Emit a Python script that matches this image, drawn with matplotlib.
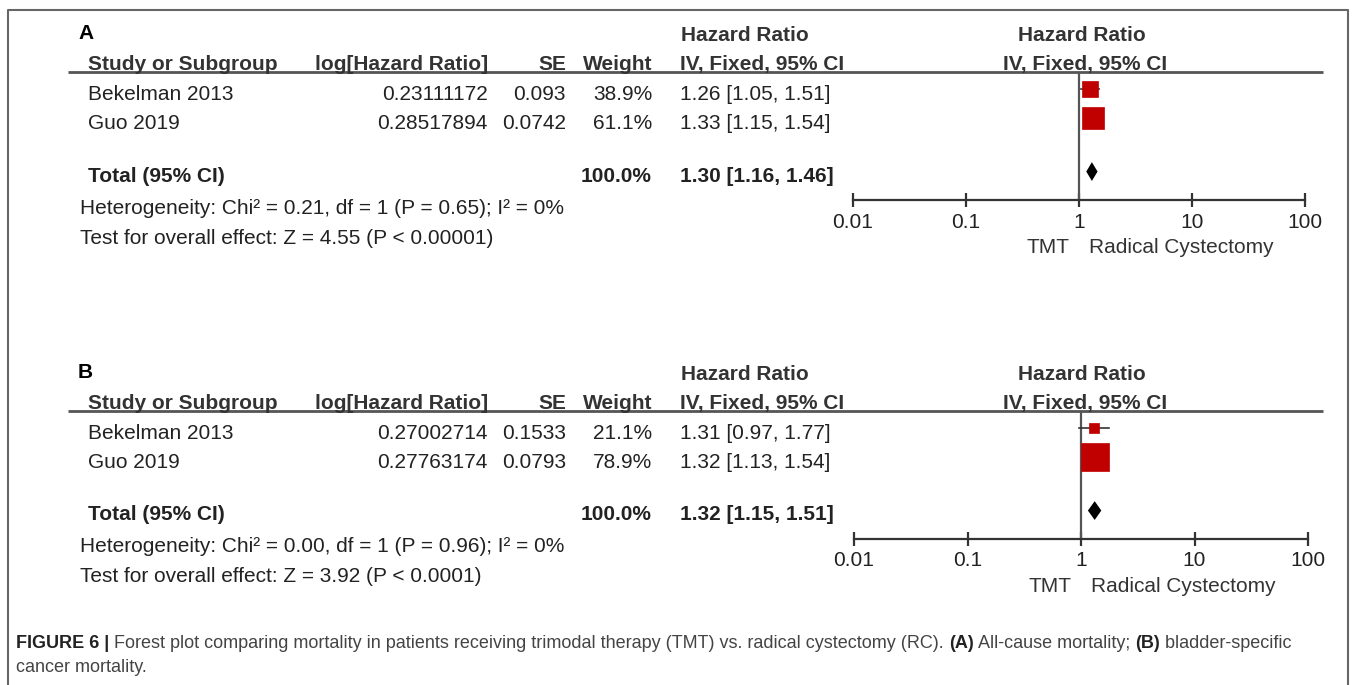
import numpy as np
import matplotlib
matplotlib.use("Agg")
import matplotlib.pyplot as plt
from matplotlib.ticker import FixedLocator, FixedFormatter, NullLocator

plt.rcParams['font.family'] = ['Liberation Sans', 'DejaVu Sans']

# data
studies = ["Bekelman 2013", "Guo 2019"]

loghr_a = ["0.23111172", "0.28517894"]
se_a = ["0.093", "0.0742"]
weight_a = [38.9, 61.1]
hr_a = [1.26, 1.33]
lo_a = [1.05, 1.15]
hi_a = [1.51, 1.54]
total_a = [1.30, 1.16, 1.46]
het_a = "Heterogeneity: Chi² = 0.21, df = 1 (P = 0.65); I² = 0%"
test_a = "Test for overall effect: Z = 4.55 (P < 0.00001)"

loghr_b = ["0.27002714", "0.27763174"]
se_b = ["0.1533", "0.0793"]
weight_b = [21.1, 78.9]
hr_b = [1.31, 1.32]
lo_b = [0.97, 1.13]
hi_b = [1.77, 1.54]
total_b = [1.32, 1.15, 1.51]
het_b = "Heterogeneity: Chi² = 0.00, df = 1 (P = 0.96); I² = 0%"
test_b = "Test for overall effect: Z = 3.92 (P < 0.0001)"

ticks = [0.01, 0.1, 1, 10, 100]
tick_labels = ["0.01", "0.1", "1", "10", "100"]

W, H = 1357, 685
fig = plt.figure(figsize=(W / 100, H / 100), dpi=100)
ax0 = fig.add_axes([0, 0, 1, 1])
ax0.set_xlim(0, W)
ax0.set_ylim(H, 0)
ax0.axis('off')

TXT = '#222222'
LINE = '#555555'
FS = 15


def px_axes(x0, x1, y0, y1):
    # axes placed by pixel box (y from top)
    return fig.add_axes([x0 / W, 1 - y1 / H, (x1 - x0) / W, (y1 - y0) / H])


def panel(label, off, x0, x1, loghr, se, weight, hr, lo, hi, total, het, test):
    ax0.text(78, 33 + off, label, fontsize=FS, fontweight='bold', color='black', va='center')
    ax0.text(745, 35 + off, "Hazard Ratio", fontsize=FS, fontweight='bold', color='#333', ha='center', va='center')
    ax0.text(1082, 35 + off, "Hazard Ratio", fontsize=FS, fontweight='bold', color='#333', ha='center', va='center')
    hy = 64 + off
    ax0.text(88, hy, "Study or Subgroup", fontsize=FS, fontweight='bold', color='#333', va='center')
    ax0.text(488, hy, "log[Hazard Ratio]", fontsize=FS, fontweight='bold', color='#333', ha='right', va='center')
    ax0.text(566, hy, "SE", fontsize=FS, fontweight='bold', color='#333', ha='right', va='center')
    ax0.text(652, hy, "Weight", fontsize=FS, fontweight='bold', color='#333', ha='right', va='center')
    ax0.text(680, hy, "IV, Fixed, 95% CI", fontsize=FS, fontweight='bold', color='#333', va='center')
    ax0.text(1085, hy, "IV, Fixed, 95% CI", fontsize=FS, fontweight='bold', color='#333', ha='center', va='center')
    ax0.plot([68, 1323], [72 + off, 72 + off], color=LINE, lw=2, solid_capstyle='butt')

    for i, name in enumerate(studies):
        y = 94 + 29 * i + off
        ax0.text(88, y, name, fontsize=FS, color=TXT, va='center')
        ax0.text(488, y, loghr[i], fontsize=FS, color=TXT, ha='right', va='center')
        ax0.text(566, y, se[i], fontsize=FS, color=TXT, ha='right', va='center')
        ax0.text(652, y, f"{weight[i]:.1f}%", fontsize=FS, color=TXT, ha='right', va='center')
        ax0.text(680, y, f"{hr[i]:.2f} [{lo[i]:.2f}, {hi[i]:.2f}]", fontsize=FS, color=TXT, va='center')
    ty = 176 + off
    ax0.text(88, ty, "Total (95% CI)", fontsize=FS, fontweight='bold', color=TXT, va='center')
    ax0.text(652, ty, f"{sum(weight):.1f}%", fontsize=FS, fontweight='bold', color=TXT, ha='right', va='center')
    ax0.text(680, ty, f"{total[0]:.2f} [{total[1]:.2f}, {total[2]:.2f}]", fontsize=FS,
             fontweight='bold', color=TXT, va='center')
    ax0.text(80, 208 + off, het, fontsize=FS, color=TXT, va='center')
    ax0.text(80, 238 + off, test, fontsize=FS, color=TXT, va='center')

    # forest part
    ax = px_axes(x0, x1, 72 + off, 200 + off)
    ax.set_xscale('log')
    ax.set_xlim(0.01, 100)
    ax.set_ylim(3.9, -0.6)
    for s in ['top', 'left', 'right']:
        ax.spines[s].set_visible(False)
    ax.spines['bottom'].set_color('#333')
    ax.spines['bottom'].set_linewidth(1.6)
    ax.xaxis.set_major_locator(FixedLocator(ticks))
    ax.xaxis.set_major_formatter(FixedFormatter(tick_labels))
    ax.xaxis.set_minor_locator(NullLocator())
    ax.yaxis.set_visible(False)
    ax.tick_params(axis='x', direction='inout', length=10, width=1.6, color='#333',
                   labelsize=FS, labelcolor=TXT, pad=4)
    ax.axvline(1, color=LINE, lw=1.6)
    for i in range(len(studies)):
        ax.plot([lo[i], hi[i]], [i, i], color='#333', lw=1.2)
        side = (0.34 * weight[i] + 2) * 0.72
        ax.plot(hr[i], i, marker='s', ms=side, color='#c00000', mec='#c00000', mew=0.5)
    yt, h = 2.9, 0.33
    ax.fill([total[1], total[0], total[2], total[0]], [yt, yt - h, yt, yt + h], color='black', lw=0)
    ax.patch.set_alpha(0)
    ax.annotate("TMT", xy=(1, 0), xycoords=('data', 'axes fraction'), xytext=(-7, -34),
                textcoords='offset points', ha='right', va='center', fontsize=FS, color='#333')
    ax.annotate("Radical Cystectomy", xy=(1, 0), xycoords=('data', 'axes fraction'), xytext=(7, -34),
                textcoords='offset points', ha='left', va='center', fontsize=FS, color='#333')


panel("A", 0, 853, 1305, loghr_a, se_a, weight_a, hr_a, lo_a, hi_a, total_a, het_a, test_a)
panel("B", 339, 854, 1308, loghr_b, se_b, weight_b, hr_b, lo_b, hi_b, total_b, het_b, test_b)

# frame
ax0.plot([8, 8, 1348, 1348], [H + 5, 10, 10, H + 5], color='#666', lw=1.5)

# caption with mixed weights
renderer = fig.canvas.get_renderer()


def rich_line(x, y, pieces, size=13):
    for s, bold in pieces:
        t = ax0.text(x, y, s, fontsize=size, fontweight='bold' if bold else 'normal',
                     color='#222' if bold else '#444', va='center')
        bb = t.get_window_extent(renderer)
        x = ax0.transData.inverted().transform((bb.x1, bb.y0))[0]


rich_line(16, 643, [("FIGURE 6 |", True),
                    (" Forest plot comparing mortality in patients receiving trimodal therapy (TMT) vs. radical cystectomy (RC). ", False),
                    ("(A)", True), (" All-cause mortality; ", False), ("(B)", True), (" bladder-specific", False)])
rich_line(16, 667, [("cancer mortality.", False)])

fig.savefig("out.png", dpi=100)
